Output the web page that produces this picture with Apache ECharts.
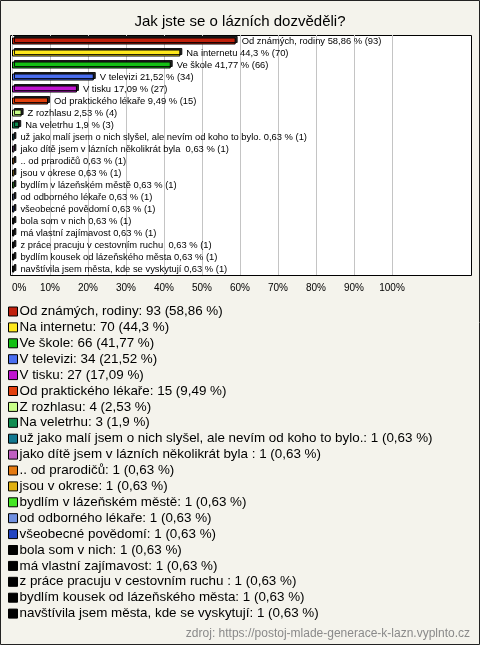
<!DOCTYPE html>
<html><head><meta charset="utf-8">
<script src="https://cdn.jsdelivr.net/npm/echarts@6/dist/echarts.min.js"></script>
<style>html,body{margin:0;padding:0;background:#f4f3ec}#c{width:480px;height:645px}</style>
</head><body><div id="c"></div>
<script>
var categories = [
  "Od známých, rodiny",
  "Na internetu",
  "Ve škole",
  "V televizi",
  "V tisku",
  "Od praktického lékaře",
  "Z rozhlasu",
  "Na veletrhu",
  "už jako malí jsem o nich slyšel, ale nevím od koho to bylo.",
  "jako dítě jsem v lázních několikrát byla ",
  ".. od prarodičů",
  "jsou v okrese",
  "bydlím v lázeňském městě",
  "od odborného lékaře",
  "všeobecné povědomí",
  "bola som v nich",
  "má vlastní zajímavost",
  "z práce pracuju v cestovním ruchu ",
  "bydlím kousek od lázeňského města",
  "navštívila jsem města, kde se vyskytují"
];
var counts = [93, 70, 66, 34, 27, 15, 4, 3, 1, 1, 1, 1, 1, 1, 1, 1, 1, 1, 1, 1];
var percents = [58.86, 44.3, 41.77, 21.52, 17.09, 9.49, 2.53, 1.9, 0.63, 0.63, 0.63, 0.63, 0.63, 0.63, 0.63, 0.63, 0.63, 0.63, 0.63, 0.63];
var colors = ["#c0200c", "#ffe81a", "#14c014", "#4a6ef0", "#c014d0", "#e2400e", "#c8ff88", "#108c50", "#127890", "#c060c0", "#e47a12", "#e0b010", "#44e624", "#7090e0", "#2244c0", "#000000", "#000000", "#000000", "#000000", "#000000"];
var xTicks = [0, 10, 20, 30, 40, 50, 60, 70, 80, 90, 100];

function fmt(v) { return String(v).replace('.', ','); }

var series = categories.map(function (name, i) {
  var d = categories.map(function (_, j) { return j === i ? percents[i] : '-'; });
  return {
    type: 'bar', name: name, stack: 'all', data: d, barWidth: 7,
    itemStyle: { color: colors[i], borderColor: '#000', borderWidth: 1,
      shadowColor: 'rgba(0,0,0,0.85)', shadowOffsetX: 2, shadowOffsetY: -1.5, shadowBlur: 0 },
    label: { show: true, position: 'right', distance: 6, color: '#000',
      fontFamily: 'Liberation Sans', fontSize: 9.4,
      formatter: function () { return name + ' ' + fmt(percents[i]) + ' % (' + counts[i] + ')'; } },
    emphasis: { disabled: true }
  };
});

var chart = echarts.init(document.getElementById('c'), null, { renderer: 'canvas' });
chart.setOption({
  backgroundColor: '#f4f3ec',
  animation: false,
  color: colors,
  title: { text: 'Jak jste se o lázních dozvěděli?', left: 'center', top: 9,
    textStyle: { fontFamily: 'Liberation Sans', fontSize: 15, fontWeight: 'normal', color: '#000' } },
  graphic: [
    { type: 'rect', z: -20, shape: { x: 0.5, y: 0.5, width: 479, height: 644 },
      style: { fill: 'none', stroke: '#222', lineWidth: 1 }, silent: true },
    { type: 'rect', z: -10, shape: { x: 10.5, y: 35.5, width: 461, height: 240 },
      style: { fill: '#fff', stroke: '#000', lineWidth: 1 }, silent: true },
    { type: 'text', z: 10, x: 470, y: 634,
      style: { text: 'zdroj: https://postoj-mlade-generace-k-lazn.vyplnto.cz', fill: '#8a8a8a',
        font: '12px "Liberation Sans"', textAlign: 'right', textVerticalAlign: 'middle' }, silent: true }
  ],
  grid: { left: 12, right: 88, top: 35, bottom: 370 },
  xAxis: {
    type: 'value', min: xTicks[0], max: xTicks[xTicks.length - 1], interval: 10,
    axisLine: { show: false }, axisTick: { show: false },
    splitLine: { show: true, lineStyle: { color: '#c4c4c4', width: 1 } },
    axisLabel: { margin: 8, color: '#000', fontFamily: 'Liberation Sans', fontSize: 10,
      alignMinLabel: 'left', formatter: '{value}%' }
  },
  yAxis: {
    type: 'category', data: categories, inverse: true,
    axisLine: { show: false }, axisTick: { show: false }, axisLabel: { show: false },
    splitLine: { show: false }
  },
  legend: {
    orient: 'vertical', left: 8, top: 305, padding: 0, itemWidth: 9, itemHeight: 9, itemGap: 2.9,
    icon: 'rect', selectedMode: false,
    itemStyle: { borderColor: '#000', borderWidth: 1, shadowBlur: 0, shadowOffsetX: 0, shadowOffsetY: 0, shadowColor: 'transparent' },
    textStyle: { fontFamily: 'Liberation Sans', fontSize: 13.4, color: '#000', padding: [0, 0, 0, -3] },
    data: categories,
    formatter: function (name) {
      var i = categories.indexOf(name);
      return name + ': ' + counts[i] + ' (' + fmt(percents[i]) + ' %)';
    }
  },
  series: series
});
</script></body></html>
